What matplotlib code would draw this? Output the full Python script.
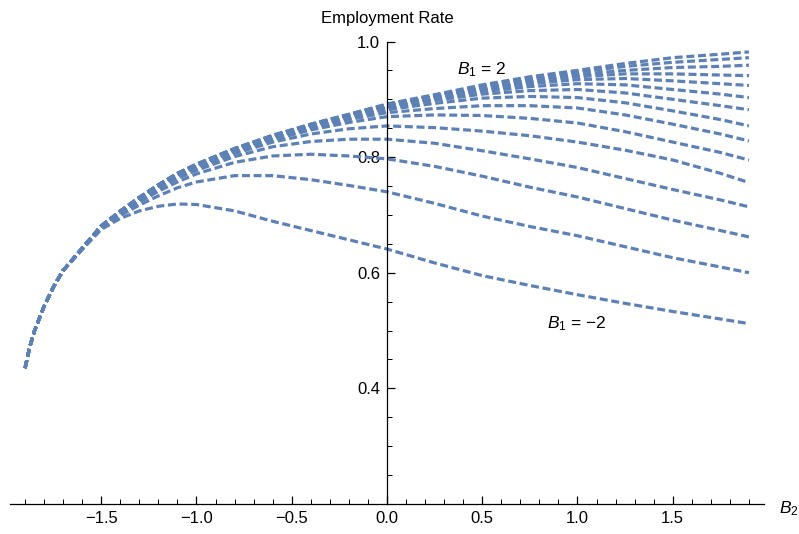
import matplotlib
matplotlib.use("Agg")
import matplotlib.pyplot as plt
from matplotlib.ticker import FixedLocator, FixedFormatter

# B2 sample positions (x axis)
b2 = [-1.9, -1.875, -1.85, -1.8, -1.75, -1.7, -1.6, -1.5, -1.4, -1.3, -1.2, -1.1,
      -1.0, -0.8, -0.6, -0.4, -0.2, 0.0, 0.25, 0.5, 0.75, 1.0, 1.25, 1.5, 1.75, 1.9]

# Employment rate curves, from lowest (B1 = -2) to highest (B1 = 2)
emp_c1 = [0.435, 0.472, 0.500, 0.542, 0.576, 0.604, 0.640, 0.675, 0.694, 0.707, 0.715, 0.719,
          0.718, 0.707, 0.689, 0.673, 0.657, 0.641, 0.617, 0.595, 0.578, 0.562, 0.547, 0.533, 0.520, 0.512]
emp_c2 = [0.435, 0.472, 0.500, 0.542, 0.576, 0.604, 0.641, 0.678, 0.699, 0.717, 0.733, 0.747,
          0.757, 0.768, 0.768, 0.761, 0.751, 0.740, 0.720, 0.698, 0.680, 0.664, 0.645, 0.626, 0.610, 0.600]
emp_c3 = [0.435, 0.472, 0.500, 0.542, 0.576, 0.604, 0.641, 0.679, 0.701, 0.722, 0.741, 0.757,
          0.771, 0.791, 0.802, 0.805, 0.802, 0.797, 0.784, 0.767, 0.748, 0.731, 0.711, 0.691, 0.673, 0.662]
emp_c4 = [0.435, 0.472, 0.500, 0.542, 0.576, 0.604, 0.642, 0.680, 0.703, 0.725, 0.745, 0.763,
          0.777, 0.801, 0.818, 0.827, 0.831, 0.831, 0.824, 0.811, 0.797, 0.782, 0.763, 0.744, 0.726, 0.714]
emp_c5 = [0.435, 0.472, 0.500, 0.542, 0.576, 0.604, 0.642, 0.680, 0.704, 0.727, 0.748, 0.766,
          0.781, 0.806, 0.826, 0.840, 0.849, 0.854, 0.851, 0.845, 0.837, 0.826, 0.812, 0.795, 0.772, 0.756]
emp_c6 = [0.435, 0.472, 0.500, 0.542, 0.576, 0.604, 0.642, 0.681, 0.705, 0.728, 0.749, 0.768,
          0.783, 0.809, 0.830, 0.847, 0.860, 0.870, 0.873, 0.872, 0.867, 0.859, 0.844, 0.826, 0.808, 0.795]
emp_c7 = [0.435, 0.472, 0.500, 0.542, 0.576, 0.604, 0.642, 0.681, 0.705, 0.729, 0.750, 0.769,
          0.784, 0.811, 0.832, 0.850, 0.865, 0.877, 0.884, 0.889, 0.889, 0.885, 0.873, 0.857, 0.840, 0.828]
emp_c8 = [0.435, 0.472, 0.500, 0.542, 0.576, 0.604, 0.642, 0.681, 0.706, 0.729, 0.751, 0.770,
          0.785, 0.812, 0.834, 0.852, 0.868, 0.882, 0.893, 0.902, 0.905, 0.903, 0.894, 0.880, 0.865, 0.854]
emp_c9 = [0.435, 0.472, 0.500, 0.542, 0.576, 0.604, 0.642, 0.681, 0.706, 0.729, 0.751, 0.770,
          0.786, 0.813, 0.835, 0.854, 0.870, 0.885, 0.898, 0.909, 0.915, 0.917, 0.911, 0.900, 0.889, 0.882]
emp_c10 = [0.435, 0.472, 0.500, 0.542, 0.576, 0.604, 0.642, 0.681, 0.706, 0.730, 0.751, 0.771,
           0.786, 0.813, 0.836, 0.855, 0.871, 0.887, 0.901, 0.913, 0.922, 0.927, 0.925, 0.917, 0.909, 0.903]
emp_c11 = [0.435, 0.472, 0.500, 0.542, 0.576, 0.604, 0.642, 0.681, 0.706, 0.730, 0.752, 0.771,
           0.787, 0.814, 0.836, 0.855, 0.872, 0.888, 0.903, 0.916, 0.927, 0.934, 0.936, 0.932, 0.927, 0.924]
emp_c12 = [0.435, 0.472, 0.500, 0.542, 0.576, 0.604, 0.643, 0.681, 0.706, 0.730, 0.752, 0.771,
           0.787, 0.814, 0.837, 0.856, 0.873, 0.889, 0.904, 0.918, 0.930, 0.939, 0.944, 0.944, 0.942, 0.941]
emp_c13 = [0.435, 0.472, 0.500, 0.542, 0.576, 0.604, 0.643, 0.681, 0.707, 0.730, 0.752, 0.772,
           0.787, 0.814, 0.837, 0.856, 0.873, 0.890, 0.905, 0.920, 0.933, 0.943, 0.950, 0.955, 0.957, 0.959]
emp_c14 = [0.435, 0.472, 0.500, 0.542, 0.576, 0.604, 0.643, 0.681, 0.707, 0.730, 0.752, 0.772,
           0.788, 0.815, 0.837, 0.857, 0.874, 0.891, 0.906, 0.922, 0.936, 0.947, 0.957, 0.964, 0.969, 0.972]
emp_c15 = [0.435, 0.472, 0.500, 0.542, 0.576, 0.604, 0.643, 0.681, 0.707, 0.731, 0.752, 0.772,
           0.788, 0.815, 0.838, 0.857, 0.874, 0.892, 0.908, 0.925, 0.939, 0.950, 0.962, 0.972, 0.978, 0.982]

curves = [emp_c1, emp_c2, emp_c3, emp_c4, emp_c5, emp_c6, emp_c7, emp_c8,
          emp_c9, emp_c10, emp_c11, emp_c12, emp_c13, emp_c14, emp_c15]

x_major = [-1.5, -1.0, -0.5, 0.0, 0.5, 1.0, 1.5]
x_labels = ["\u22121.5", "\u22121.0", "\u22120.5", "0.0", "0.5", "1.0", "1.5"]
y_major = [0.4, 0.6, 0.8, 1.0]
y_labels = ["0.4", "0.6", "0.8", "1.0"]

plt.rcParams["font.family"] = ["Liberation Sans", "DejaVu Sans"]
plt.rcParams["mathtext.fontset"] = "custom"
plt.rcParams["mathtext.rm"] = "Liberation Sans"
plt.rcParams["mathtext.it"] = "Liberation Sans:italic"

W, H = 799, 534
fig = plt.figure(figsize=(W / 100, H / 100), dpi=100)

# pixel geometry
x0_px, sx = 387.0, 190.5
y_top_px, y_bot_px = 41.5, 504.0
xlim = (-1.98, 1.98)
ylim = (0.2, 1.0)
left_px = x0_px + xlim[0] * sx
width_px = (xlim[1] - xlim[0]) * sx
ax = fig.add_axes([left_px / W, 1 - y_bot_px / H, width_px / W, (y_bot_px - y_top_px) / H])
ax.set_xlim(*xlim)
ax.set_ylim(*ylim)

color = "#5E81B5"
for c in curves:
    ax.plot(b2, c, color=color, lw=2.3, dashes=(2.5, 1.15), solid_capstyle="butt",
            dash_capstyle="butt", clip_on=False)

for s in ["top", "right"]:
    ax.spines[s].set_visible(False)
ax.spines["left"].set_position(("data", 0.0))
ax.spines["bottom"].set_position(("data", 0.2))
for s in ["left", "bottom"]:
    ax.spines[s].set_linewidth(0.9)
    ax.spines[s].set_color("#000000")

ax.xaxis.set_major_locator(FixedLocator(x_major))
ax.xaxis.set_major_formatter(FixedFormatter(x_labels))
ax.xaxis.set_minor_locator(FixedLocator([i / 10 for i in range(-19, 20) if i % 5 != 0]))
ax.yaxis.set_major_locator(FixedLocator(y_major))
ax.yaxis.set_major_formatter(FixedFormatter(y_labels))
ax.yaxis.set_minor_locator(FixedLocator([i / 20 for i in range(5, 20) if i % 4 != 0]))

ax.tick_params(which="major", direction="in", length=6, width=0.9, labelsize=12,
               colors="#000000", pad=5)
ax.tick_params(which="minor", direction="in", length=3.5, width=0.7, colors="#000000")

fig.text(387 / W, 1 - 18 / H, "Employment Rate", ha="center", va="center", fontsize=12)
fig.text(779 / W, 1 - 509 / H, "$B_2$", ha="left", va="center", fontsize=12.5)
fig.text(482 / W, 1 - 70 / H, "$B_1$ = 2", ha="center", va="center", fontsize=12.5)
fig.text(577 / W, 1 - 324 / H, "$B_1$ = \u22122", ha="center", va="center", fontsize=12.5)

fig.savefig("out.png", dpi=100)
